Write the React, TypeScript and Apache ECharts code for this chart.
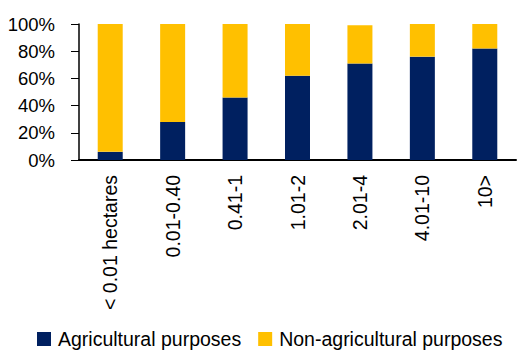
import React, { useEffect, useRef } from "react";
import * as echarts from "echarts";

const categories = ["< 0.01 hectares", "0.01-0.40", "0.41-1", "1.01-2", "2.01-4", "4.01-10", "10>"];
const agricultural = [6, 28, 46, 62, 71, 76, 82];
const nonAgricultural = [94, 72, 54, 38, 28, 24, 18];
const seriesNames = ["Agricultural purposes", "Non-agricultural purposes"];

export default function App() {
  const ref = useRef<HTMLDivElement>(null);
  useEffect(() => {
    if (!ref.current) return;
    const chart = echarts.init(ref.current, undefined, { renderer: "svg" });
    const font = "'Liberation Sans', Arial, sans-serif";
    chart.setOption({
      animation: false,
      textStyle: { fontFamily: font, color: "#000" },
      grid: { left: 79, right: 1, top: 24, bottom: 192, containLabel: false },
      legend: {
        left: 37,
        top: 329,
        padding: 0,
        itemWidth: 14,
        itemHeight: 14,
        itemGap: 17,
        icon: "rect",
        textStyle: { fontSize: 19.5, fontFamily: font, color: "#000", padding: [0, 0, 0, 2] },
        data: seriesNames,
      },
      xAxis: {
        type: "category",
        data: categories,
        axisLine: { lineStyle: { color: "#000", width: 2 } },
        axisTick: { show: false },
        axisLabel: { rotate: 90, fontSize: 19.5, fontFamily: font, color: "#000", margin: 15 },
      },
      yAxis: {
        type: "value",
        min: 0,
        max: 100,
        interval: 20,
        axisLine: { show: true, lineStyle: { color: "#000", width: 1.5 } },
        axisTick: { show: true, length: 8, lineStyle: { color: "#000" } },
        splitLine: { show: false },
        axisLabel: { formatter: "{value}%", fontSize: 18.5, fontFamily: font, color: "#000", margin: 24 },
      },
      series: [
        {
          name: seriesNames[0],
          type: "bar",
          stack: "total",
          barWidth: 25,
          data: agricultural,
          itemStyle: { color: "#002060" },
        },
        {
          name: seriesNames[1],
          type: "bar",
          stack: "total",
          barWidth: 25,
          data: nonAgricultural,
          itemStyle: { color: "#FFC000" },
        },
      ],
    });
    return () => chart.dispose();
  }, []);
  return <div ref={ref} style={{ width: 517, height: 352, position: "absolute", left: 0, top: 0 }} />;
}
